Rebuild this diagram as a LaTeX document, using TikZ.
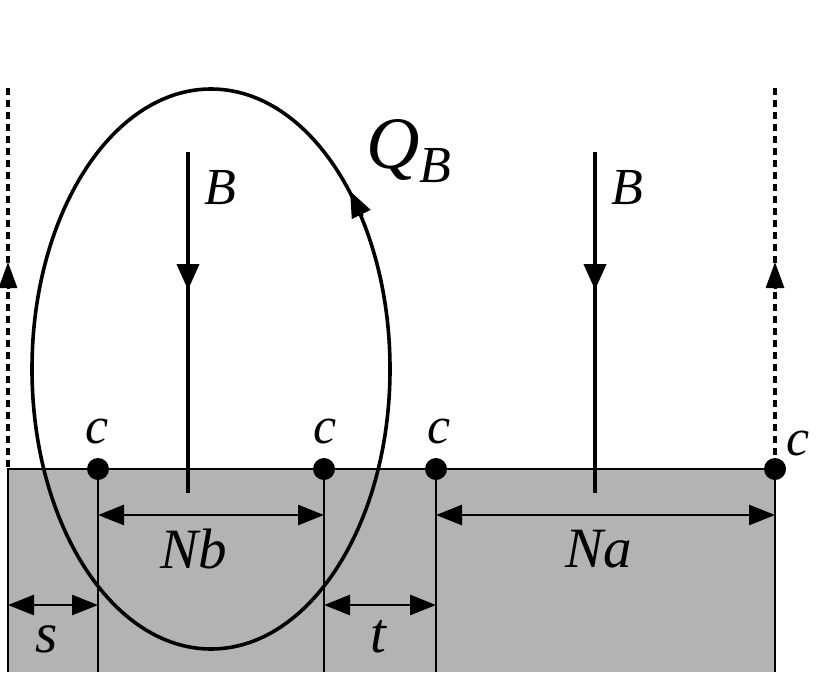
\documentclass[tikz,border=0pt]{standalone}
\usepackage{fontspec}
\newfontfamily\tms{Liberation Serif}
\usetikzlibrary{arrows.meta}
\definecolor{fillgray}{RGB}{179,179,179}
\tikzset{
  lbl/.style={inner sep=0pt, anchor=base, font=\fontsize{52}{52}\selectfont\tms\itshape},
  dimlbl/.style={inner sep=0pt, anchor=base, font=\fontsize{57}{57}\selectfont\tms\itshape},
  thin line/.style={line width=2.2pt},
  dim/.style={line width=2.6pt, {Triangle[length=26pt,width=20pt]}-{Triangle[length=26pt,width=20pt]}},
  field/.style={line width=4.5pt},
  fieldtip/.style={line width=4pt, -{Triangle[length=26pt,width=22pt]}},
  dashline/.style={line width=3.4pt, dash pattern=on 7pt off 5pt},
  dashtip/.style={line width=3pt, -{Triangle[length=26pt,width=18pt]}},
  dot/.style={circle, fill=black, inner sep=0pt, minimum size=22pt},
}
\begin{document}
\begin{tikzpicture}[x=1pt,y=-1pt]
\useasboundingbox (0,0) rectangle (834,695);
% gray slab
\fill[fillgray] (8,469) rectangle (775,672);
\coordinate (TL) at (8,469);
\coordinate (TR) at (775,469);
\coordinate (BL) at (8,672);
\coordinate (BR) at (775,672);
\draw[thin line] (BL) -- (TL) -- (TR) -- (BR);
% dots
\node[dot] (c1) at (98,469) {};
\node[dot] (c2) at (324,469) {};
\node[dot] (c3) at (436,469) {};
\node[dot] (c4) at (775,469) {};
\coordinate (b1) at (98,672);
\coordinate (b2) at (324,672);
\coordinate (b3) at (436,672);
\draw[thin line] (c1.center) -- (b1);
\draw[thin line] (c2.center) -- (b2);
\draw[thin line] (c3.center) -- (b3);
% dashed boundaries
\coordinate (d1top) at (8,88);
\coordinate (d2top) at (775,88);
\draw[dashline] (d1top) -- (TL);
\draw[dashline] (d2top) -- (c4.center);
\draw[dashtip] (8,289) -- (8,262);
\draw[dashtip] (775,289) -- (775,262);
% B fields
\coordinate (B1s) at (188,152);
\coordinate (B1e) at (188,493);
\coordinate (B2s) at (595,152);
\coordinate (B2e) at (595,493);
\draw[field] (B1s) -- (B1e);
\draw[field] (B2s) -- (B2e);
\draw[fieldtip] (188,260) -- (188,290);
\draw[fieldtip] (595,260) -- (595,290);
% ellipse Q_B
\coordinate (E) at (211,369);
\draw[line width=3.6pt] (E) ellipse [x radius=179, y radius=280];
\draw[line width=3.6pt, -{Triangle[length=26pt,width=20pt]}] (362,216) -- (350,191);
% dimension arrows
\draw[dim] (98,515) -- (324,515);
\draw[dim] (436,515) -- (775,515);
\draw[dim] (8,605) -- (98,605);
\draw[dim] (324,605) -- (436,605);
% labels
\node[lbl] (lc1) at (97,443) {c};
\node[lbl] (lc2) at (325,443) {c};
\node[lbl] (lc3) at (439,443) {c};
\node[lbl] (lc4) at (798,455) {c};
\node[lbl] (lB1) at (220,204) {B};
\node[lbl] (lB2) at (627,204) {B};
\node[inner sep=0pt, anchor=base west, font=\fontsize{74}{74}\selectfont\tms\itshape] (lQ) at (366,168) {Q\raisebox{-14pt}{\fontsize{52}{52}\selectfont B}};
\node[dimlbl] (lNb) at (194,568) {Nb};
\node[dimlbl] (lNa) at (599,567) {Na};
\node[dimlbl] (ls) at (47,652) {s};
\node[dimlbl] (lt) at (378,652) {t};
\end{tikzpicture}
\end{document}
